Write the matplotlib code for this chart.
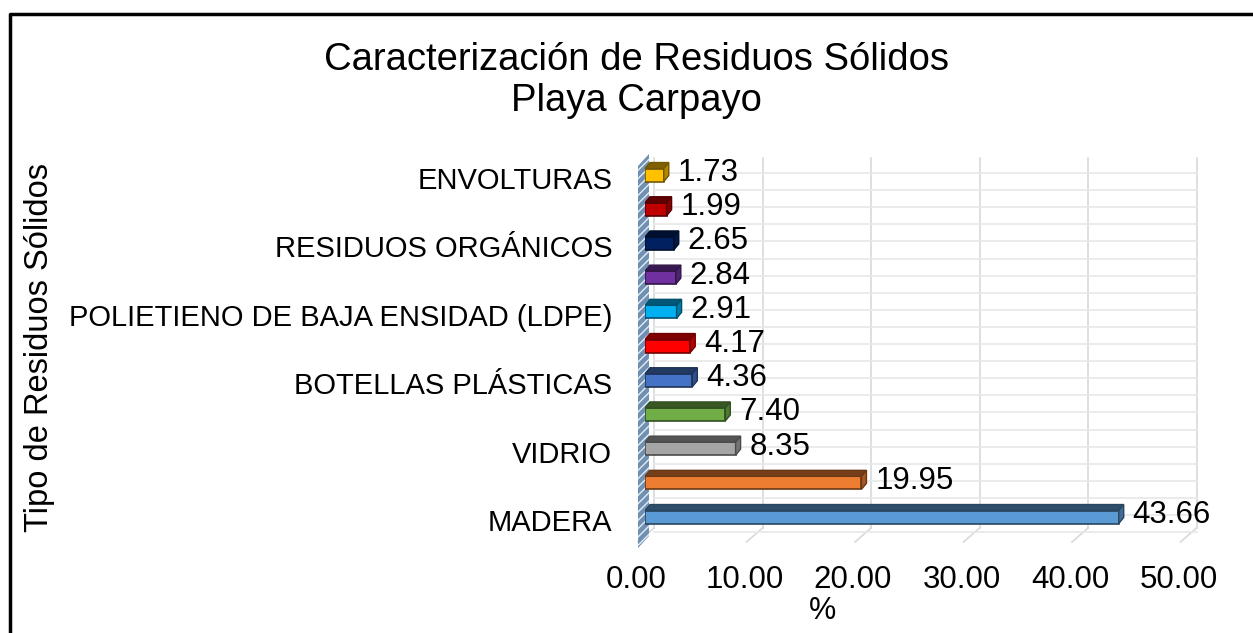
import matplotlib.pyplot as plt
from matplotlib import transforms
from matplotlib.patches import Polygon, Rectangle
from matplotlib.lines import Line2D

plt.rcParams['font.family'] = ['Liberation Sans', 'DejaVu Sans']

# data (bottom to top, as drawn)
categorias = ["MADERA", "", "VIDRIO", "", "BOTELLAS PLÁSTICAS", "",
              "POLIETIENO DE BAJA ENSIDAD (LDPE)", "", "RESIDUOS ORGÁNICOS", "", "ENVOLTURAS"]
porcentajes = [43.66, 19.95, 8.35, 7.40, 4.36, 4.17, 2.91, 2.84, 2.65, 1.99, 1.73]
colores = ["#5B9BD5", "#ED7D31", "#A5A5A5", "#70AD47", "#4472C4", "#FF0000",
           "#00B0F0", "#7030A0", "#002060", "#C00000", "#FFC000"]
ticks_x = [0, 10, 20, 30, 40, 50]

W, H = 1253, 633
fig = plt.figure(figsize=(W / 100, H / 100), dpi=100)
ax = fig.add_axes([645 / W, (H - 540) / H, 542.5 / W, 382 / H])
ax.set_xlim(0, 50)
ax.set_ylim(-0.73, 10.44)
for s in ax.spines.values():
    s.set_visible(False)

ux = 50 / 542.5          # data units per pixel (x)
uy = 11.17 / 382         # data units per pixel (y)

def shade(c, f):
    r, g, b = [int(c[i:i + 2], 16) / 255 for i in (1, 3, 5)]
    return (r * f, g * f, b * f)

# back wall / floor grid
bx, by = 9 * ux, 12 * uy
for v in ticks_x:
    ax.plot([v + bx, v + bx], [-0.73 + by, 10.44], color='#D9D9D9', lw=1.2, zorder=0, clip_on=False)
    ax.plot([v - 7 * ux, v + bx], [-0.73 - 2 * uy, -0.73 + by], color='#D9D9D9', lw=1.2, zorder=0, clip_on=False)
k = -0.5
while k < 10.45:
    ax.plot([bx, 50 + bx], [k, k], color='#E8E8E8', lw=1.2, zorder=0, clip_on=False)
    k += 0.5

# left wall strip
wall = Polygon([(-7 * ux, -0.73 - 8 * uy), (4 * ux, -0.73 + 4 * uy), (4 * ux, 10.44 + 4 * uy), (-7 * ux, 10.44 - 8 * uy)],
               closed=True, facecolor='#6F90B2', edgecolor='#E4ECF4', hatch='////', lw=0, zorder=1, clip_on=False)
ax.add_patch(wall)

# 3d bars
h = 13 * uy
dx, dy = 5 * ux, 6 * uy
for i, (v, c) in enumerate(zip(porcentajes, colores)):
    edge = shade(c, 0.45)
    y0 = i - h / 2 - 2 * uy
    ax.add_patch(Rectangle((0, y0), v, h, facecolor=c, edgecolor=edge, lw=1.2, zorder=3))
    ax.add_patch(Polygon([(0, y0 + h), (v, y0 + h), (v + dx, y0 + h + dy), (dx, y0 + h + dy)],
                         closed=True, facecolor=shade(c, 0.5), edgecolor=edge, lw=1.0, zorder=3))
    ax.add_patch(Polygon([(v, y0), (v + dx, y0 + dy), (v + dx, y0 + h + dy), (v, y0 + h)],
                         closed=True, facecolor=shade(c, 0.7), edgecolor=edge, lw=1.0, zorder=3))
    ax.text(v + 14 * ux, i, f"{v:.2f}", ha='left', va='center', fontsize=22.5, zorder=4)

# axes ticks
ax.set_xticks(ticks_x)
ax.set_xticklabels([f"{t:.2f}" for t in ticks_x], fontsize=22.5)
ax.set_yticks(range(len(categorias)))
ax.set_yticklabels(categorias, fontsize=21)
ax.tick_params(axis='x', length=0, pad=18)
ax.tick_params(axis='y', length=0, pad=23.5)
shift_x = transforms.ScaledTranslation(-9 / 100, 0, fig.dpi_scale_trans)
for lbl in ax.get_xticklabels():
    lbl.set_transform(lbl.get_transform() + shift_x)
shift_y = transforms.ScaledTranslation(0, -5 / 100, fig.dpi_scale_trans)
for lbl in ax.get_yticklabels():
    lbl.set_transform(lbl.get_transform() + shift_y)

# texts
fig.text(636 / W, 1 - 60 / H, "Caracterización de Residuos Sólidos", ha='center', va='center', fontsize=27.5)
fig.text(636 / W, 1 - 101 / H, "Playa Carpayo", ha='center', va='center', fontsize=27.5)
fig.text(40 / W, 1 - 348 / H, "Tipo de Residuos Sólidos", rotation=90, ha='center', va='center', fontsize=23.5)
fig.text(822 / W, 1 - 611 / H, "%", ha='center', va='center', fontsize=22)

# outer frame (top and left only visible)
fig.add_artist(Line2D([10 / W, 10 / W, 1], [0, 1 - 14 / H, 1 - 14 / H], color='black', lw=2.5,
                      transform=fig.transFigure))

fig.savefig('out.png', dpi=100, facecolor='white')
